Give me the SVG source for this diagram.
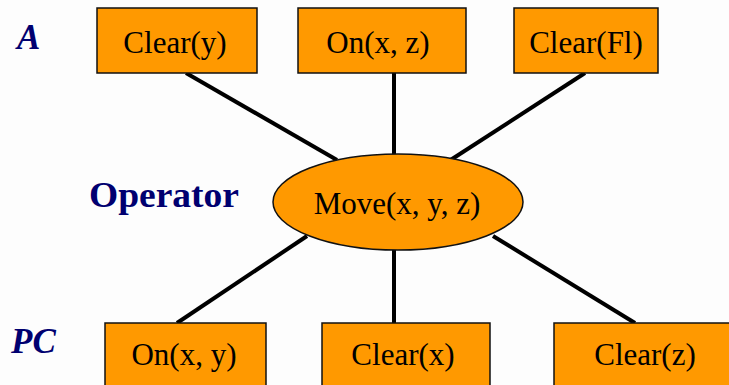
<svg xmlns="http://www.w3.org/2000/svg" width="729" height="385" viewBox="0 0 729 385">
  <style>
    .box { fill: #FF9900; stroke: #111; stroke-width: 1.5; }
    .lbl { font-family: "Liberation Serif", "Times New Roman", serif; font-size: 31px; fill: #000; text-anchor: middle; }
    .side { font-family: "Liberation Serif", "Times New Roman", serif; font-weight: bold; fill: #000070; font-size: 35px; }
    .edge { stroke: #000; stroke-width: 4; fill: none; }
  </style>
  <rect width="729" height="385" fill="#fdfdfd"/>

  <!-- row captions -->
  <text class="side" x="17" y="49" font-style="italic">A</text>
  <text class="side" x="89" y="207" textLength="150" lengthAdjust="spacingAndGlyphs">Operator</text>
  <text class="side" x="11" y="353" font-style="italic">PC</text>

  <!-- connectors -->
  <g id="connectors">
    <line class="edge" x1="186" y1="73" x2="337" y2="160"/>
    <line class="edge" x1="394" y1="73" x2="394" y2="155"/>
    <line class="edge" x1="585" y1="73" x2="449" y2="161"/>
    <line class="edge" x1="307" y1="236" x2="177" y2="323"/>
    <line class="edge" x1="394" y1="250" x2="394" y2="323"/>
    <line class="edge" x1="493" y1="236" x2="635" y2="323"/>
  </g>

  <!-- add list -->
  <g id="clear-y">
    <rect class="box" x="97" y="8" width="160" height="65"/>
    <text class="lbl" x="175" y="53">Clear(y)</text>
  </g>
  <g id="on-x-z">
    <rect class="box" x="298" y="8" width="168" height="65"/>
    <text class="lbl" x="378" y="53">On(x, z)</text>
  </g>
  <g id="clear-fl">
    <rect class="box" x="514" y="8" width="144" height="65"/>
    <text class="lbl" x="586" y="53">Clear(Fl)</text>
  </g>

  <!-- operator -->
  <g id="move">
    <ellipse class="box" cx="398" cy="202" rx="125" ry="48"/>
    <text class="lbl" x="397" y="214">Move(x, y, z)</text>
  </g>

  <!-- preconditions -->
  <g id="on-x-y">
    <rect class="box" x="105" y="323" width="161" height="70"/>
    <text class="lbl" x="184" y="365">On(x, y)</text>
  </g>
  <g id="clear-x">
    <rect class="box" x="322" y="323" width="168" height="70"/>
    <text class="lbl" x="403" y="365">Clear(x)</text>
  </g>
  <g id="clear-z">
    <rect class="box" x="554" y="323" width="180" height="70"/>
    <text class="lbl" x="645" y="365">Clear(z)</text>
  </g>
</svg>
